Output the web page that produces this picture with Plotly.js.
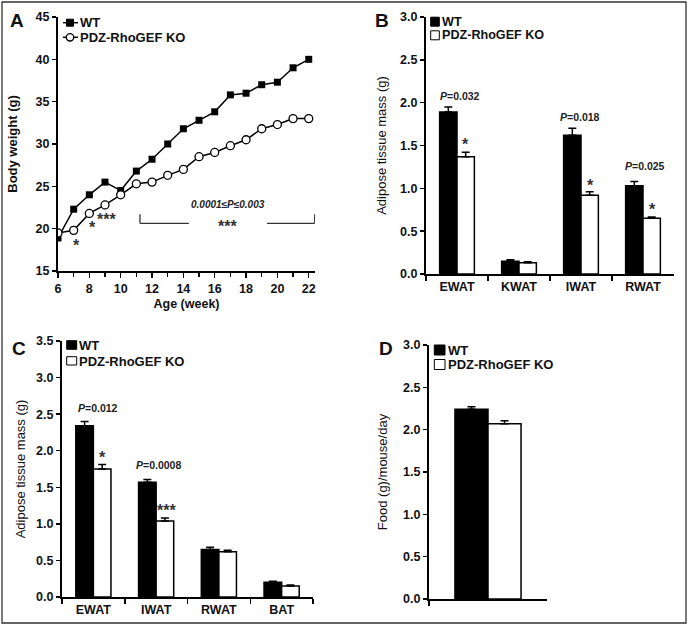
<!DOCTYPE html>
<html>
<head>
<meta charset="utf-8">
<script src="https://cdn.plot.ly/plotly-3.0.1.min.js"></script>
<style>
  html, body { margin: 0; padding: 0; background: #fff; }
  #chart { width: 688px; height: 625px; }
</style>
</head>
<body>
<div id="chart"></div>
<script>
// panel A: body weight by week
const weeks = [6, 7, 8, 9, 10, 11, 12, 13, 14, 15, 16, 17, 18, 19, 20, 21, 22];
const wtWeight = [18.9, 22.3, 24.0, 25.5, 24.5, 26.8, 28.2, 30.0, 31.8, 32.8, 33.8, 35.8, 36.0, 37.0, 37.3, 39.0, 40.0];
const koWeight = [19.5, 19.8, 21.8, 22.8, 24.0, 25.3, 25.5, 26.3, 27.0, 28.5, 29.0, 29.8, 30.5, 31.8, 32.3, 33.0, 33.0];

// panel B: adipose tissue mass
const tissuesB = ['EWAT', 'KWAT', 'IWAT', 'RWAT'];
const wtMassB = [1.89, 0.15, 1.62, 1.03];
const wtErrB = [0.06, 0.015, 0.08, 0.05];
const koMassB = [1.37, 0.13, 0.92, 0.65];
const koErrB = [0.05, 0.012, 0.04, 0.015];

// panel C: adipose tissue mass
const tissuesC = ['EWAT', 'IWAT', 'RWAT', 'BAT'];
const wtMassC = [2.34, 1.57, 0.65, 0.20];
const wtErrC = [0.06, 0.035, 0.03, 0.015];
const koMassC = [1.75, 1.04, 0.62, 0.15];
const koErrC = [0.06, 0.04, 0.02, 0.015];

// panel D: food intake
const foodCat = ['Food'];
const wtFood = [2.24];
const wtFoodErr = [0.03];
const koFood = [2.07];
const koFoodErr = [0.035];

const W = 688, H = 625;
const FONT = 'Liberation Sans, Arial, sans-serif';
const px = x => x / W;
const py = y => 1 - y / H;
const zeros = a => a.map(() => 0);

function errs(arr) {
  return {type: 'data', array: arr, arrayminus: zeros(arr), symmetric: false,
    color: '#000', thickness: 1.5, width: 4};
}

function barPair(cats, wt, wtErr, ko, koErr, xa, ya) {
  return [
    {type: 'bar', x: cats, y: wt, xaxis: xa, yaxis: ya, name: 'WT', showlegend: false,
      marker: {color: '#000', line: {color: '#000', width: 1.5}}, error_y: errs(wtErr)},
    {type: 'bar', x: cats, y: ko, xaxis: xa, yaxis: ya, name: 'PDZ-RhoGEF KO', showlegend: false,
      marker: {color: '#fff', line: {color: '#000', width: 1.5}}, error_y: errs(koErr)}
  ];
}

let traces = [
  {type: 'scatter', mode: 'lines+markers', x: weeks, y: wtWeight, name: 'WT', showlegend: false,
    line: {color: '#000', width: 1.5},
    marker: {symbol: 'square', size: 7, color: '#000'}},
  {type: 'scatter', mode: 'lines+markers', x: weeks, y: koWeight, name: 'PDZ-RhoGEF KO', showlegend: false,
    line: {color: '#000', width: 1.5},
    marker: {symbol: 'circle', size: 8, color: '#fff', line: {color: '#000', width: 1.3}}}
];
traces = traces.concat(barPair(tissuesB, wtMassB, wtErrB, koMassB, koErrB, 'x2', 'y2'));
traces = traces.concat(barPair(tissuesC, wtMassC, wtErrC, koMassC, koErrC, 'x3', 'y3'));
traces = traces.concat(barPair(foodCat, wtFood, wtFoodErr, koFood, koFoodErr, 'x4', 'y4'));

const tickfont = {family: FONT, size: 12.5, weight: 'bold', color: '#111'};

function yAxis(top, bottom, range, dtick, fmt, title, bold, standoff, anchor) {
  return {
    domain: [py(bottom), py(top)], range: range, dtick: dtick, tickformat: fmt,
    anchor: anchor, showgrid: false, zeroline: false,
    showline: true, linecolor: '#000', linewidth: 2,
    ticks: 'outside', ticklen: 4, tickwidth: 1.5, tickcolor: '#000',
    tickfont: tickfont,
    title: {text: title, standoff: standoff,
      font: {family: FONT, size: 13, weight: bold ? 'bold' : 'normal', color: '#111'}}
  };
}

function catAxis(left, right, anchor, showLabels) {
  return {
    domain: [px(left), px(right)], range: [-0.5, showLabels ? 3.5 : 0.5], type: 'category',
    anchor: anchor, showgrid: false, zeroline: false,
    showline: true, linecolor: '#000', linewidth: 2,
    ticks: 'outside', tickson: 'boundaries', ticklen: 5, tickwidth: 1.5, tickcolor: '#000',
    showticklabels: showLabels, tickfont: tickfont
  };
}

const layout = {
  width: W, height: H,
  margin: {l: 0, r: 0, t: 0, b: 0},
  paper_bgcolor: '#fff', plot_bgcolor: 'rgba(0,0,0,0)',
  showlegend: false,
  bargap: 0.44, bargroupgap: 0, barmode: 'group',
  font: {family: FONT, color: '#111'},

  xaxis: {
    domain: [px(58), px(315)], range: [6, 22.4], anchor: 'y',
    dtick: 2, tick0: 6, showgrid: false, zeroline: false,
    showline: true, linecolor: '#000', linewidth: 2,
    ticks: 'outside', ticklen: 5, tickwidth: 1.5, tickcolor: '#000',
    minor: {dtick: 1, ticks: 'outside', ticklen: 4, tickwidth: 1.5, tickcolor: '#000', showgrid: false},
    tickfont: tickfont,
    title: {text: 'Age (week)', standoff: 4, font: {family: FONT, size: 12.5, weight: 'bold', color: '#111'}}
  },
  yaxis: yAxis(17, 271, [15, 45], 5, '', 'Body weight (g)', true, 15, 'x'),

  xaxis2: catAxis(426, 674, 'y2', true),
  yaxis2: yAxis(17, 274, [0, 3], 0.5, '.1f', 'Adipose tissue mass (g)', false, 11, 'x2'),

  xaxis3: catAxis(62, 313, 'y3', true),
  yaxis3: yAxis(341, 597, [0, 3.5], 0.5, '.1f', 'Adipose tissue mass (g)', false, 8, 'x3'),

  xaxis4: catAxis(429, 547, 'y4', false),
  yaxis4: yAxis(345, 599, [0, 3], 0.5, '.1f', 'Food (g)/mouse/day', false, 13, 'x4'),

  shapes: [],
  annotations: []
};

const shapes = layout.shapes;
const ann = layout.annotations;

// figure border
shapes.push({type: 'rect', xref: 'paper', yref: 'paper', x0: px(2), x1: px(686), y0: py(623), y1: py(2),
  line: {color: '#333', width: 1.3}});

// bracket in panel A
const brk = {color: '#333', width: 1.3};
shapes.push({type: 'line', xref: 'x', yref: 'y', x0: 11.23, x1: 11.23, y0: 20.63, y1: 21.7, line: brk});
shapes.push({type: 'line', xref: 'x', yref: 'y', x0: 11.23, x1: 14.35, y0: 20.63, y1: 20.63, line: brk});
shapes.push({type: 'line', xref: 'x', yref: 'y', x0: 19.34, x1: 22.38, y0: 20.63, y1: 20.63, line: brk});
shapes.push({type: 'line', xref: 'x', yref: 'y', x0: 22.38, x1: 22.38, y0: 20.63, y1: 21.7, line: brk});

function txt(text, x, y, xref, yref, size, opts) {
  ann.push(Object.assign({text: text, x: x, y: y, xref: xref, yref: yref, showarrow: false,
    xanchor: 'center', yanchor: 'middle',
    font: {family: FONT, size: size, color: '#222', weight: 'bold'}}, opts || {}));
}
function star(text, x, y, xref, yref) {
  txt(text, x, y, xref, yref, 16, {yshift: -4, font: {family: FONT, size: 16, color: '#333', weight: 'bold'}});
}

// panel A texts
star('*', 7.19, 18.46, 'x', 'y');
star('*', 8.21, 20.63, 'x', 'y');
star('***', 9.08, 21.55, 'x', 'y');
star('***', 16.82, 20.73, 'x', 'y');
txt('<i>0.0001≤P≤0.003</i>', 16.85, 22.8, 'x', 'y', 10);

// panel B texts
txt('<i>P</i>=0.032', 0.056, 2.08, 'x2', 'y2', 10.5);
txt('<i>P</i>=0.018', 1.984, 1.836, 'x2', 'y2', 10.5);
txt('<i>P</i>=0.025', 3.03, 1.26, 'x2', 'y2', 10.5);
star('*', 0.142, 1.56, 'x2', 'y2');
star('*', 2.158, 1.078, 'x2', 'y2');
star('*', 3.153, 0.805, 'x2', 'y2');

// panel C texts
txt('<i>P</i>=0.012', 0.079, 2.587, 'x3', 'y3', 10.5);
txt('<i>P</i>=0.0008', 1.036, 1.80, 'x3', 'y3', 10.5);
star('*', 0.138, 1.965, 'x3', 'y3');
star('***', 1.17, 1.24, 'x3', 'y3');

// panel letters
[['A', 17, 20], ['B', 381.7, 20], ['C', 19, 348], ['D', 385.5, 348]].forEach(l => {
  txt(l[0], px(l[1]), py(l[2]), 'paper', 'paper', 19, {font: {family: FONT, size: 19, weight: 'bold', color: '#111'}});
});

// legends (drawn by hand so the rows sit as tight as in the original)
function legText(text, x, y, size) {
  txt(text, px(x), py(y), 'paper', 'paper', size, {xanchor: 'left',
    font: {family: FONT, size: size || 13, weight: 'bold', color: '#111'}});
}
function legBox(x0, x1, y0, y1, fill) {
  shapes.push({type: 'rect', xref: 'paper', yref: 'paper', x0: px(x0), x1: px(x1), y0: py(y1), y1: py(y0),
    fillcolor: fill, line: {color: '#000', width: 1}});
}

// A legend
shapes.push({type: 'line', xref: 'paper', yref: 'paper', x0: px(63), x1: px(78), y0: py(22.7), y1: py(22.7), line: {color: '#000', width: 1.5}});
legBox(66.5, 73.5, 19.2, 26.2, '#000');
shapes.push({type: 'line', xref: 'paper', yref: 'paper', x0: px(63), x1: px(78), y0: py(37.3), y1: py(37.3), line: {color: '#000', width: 1.5}});
shapes.push({type: 'circle', xref: 'paper', yref: 'paper', x0: px(66.3), x1: px(73.7), y0: py(41), y1: py(33.6),
  fillcolor: '#fff', line: {color: '#000', width: 1.3}});
legText('WT', 78, 22.7, 13);
legText('PDZ-RhoGEF KO', 78, 37.3, 13);

// B legend
legBox(430.7, 439.3, 17.2, 26.2, '#000');
legBox(430.7, 439.3, 30.8, 39.8, '#fff');
legText('WT', 440, 21.7, 12.6);
legText('PDZ-RhoGEF KO', 440, 35.5, 12.6);

// C legend
legBox(66.7, 76.7, 340.7, 349.3, '#000');
legBox(66.7, 76.7, 356.7, 365, '#fff');
legText('WT', 77, 345, 13);
legText('PDZ-RhoGEF KO', 77, 361, 13);

// D legend
legBox(434.3, 445, 345, 355, '#000');
legBox(434.3, 445, 359.5, 369.5, '#fff');
legText('WT', 445.5, 350, 13);
legText('PDZ-RhoGEF KO', 445.5, 364.6, 13);

Plotly.newPlot('chart', traces, layout, {displayModeBar: false, staticPlot: true});
</script>
</body>
</html>
